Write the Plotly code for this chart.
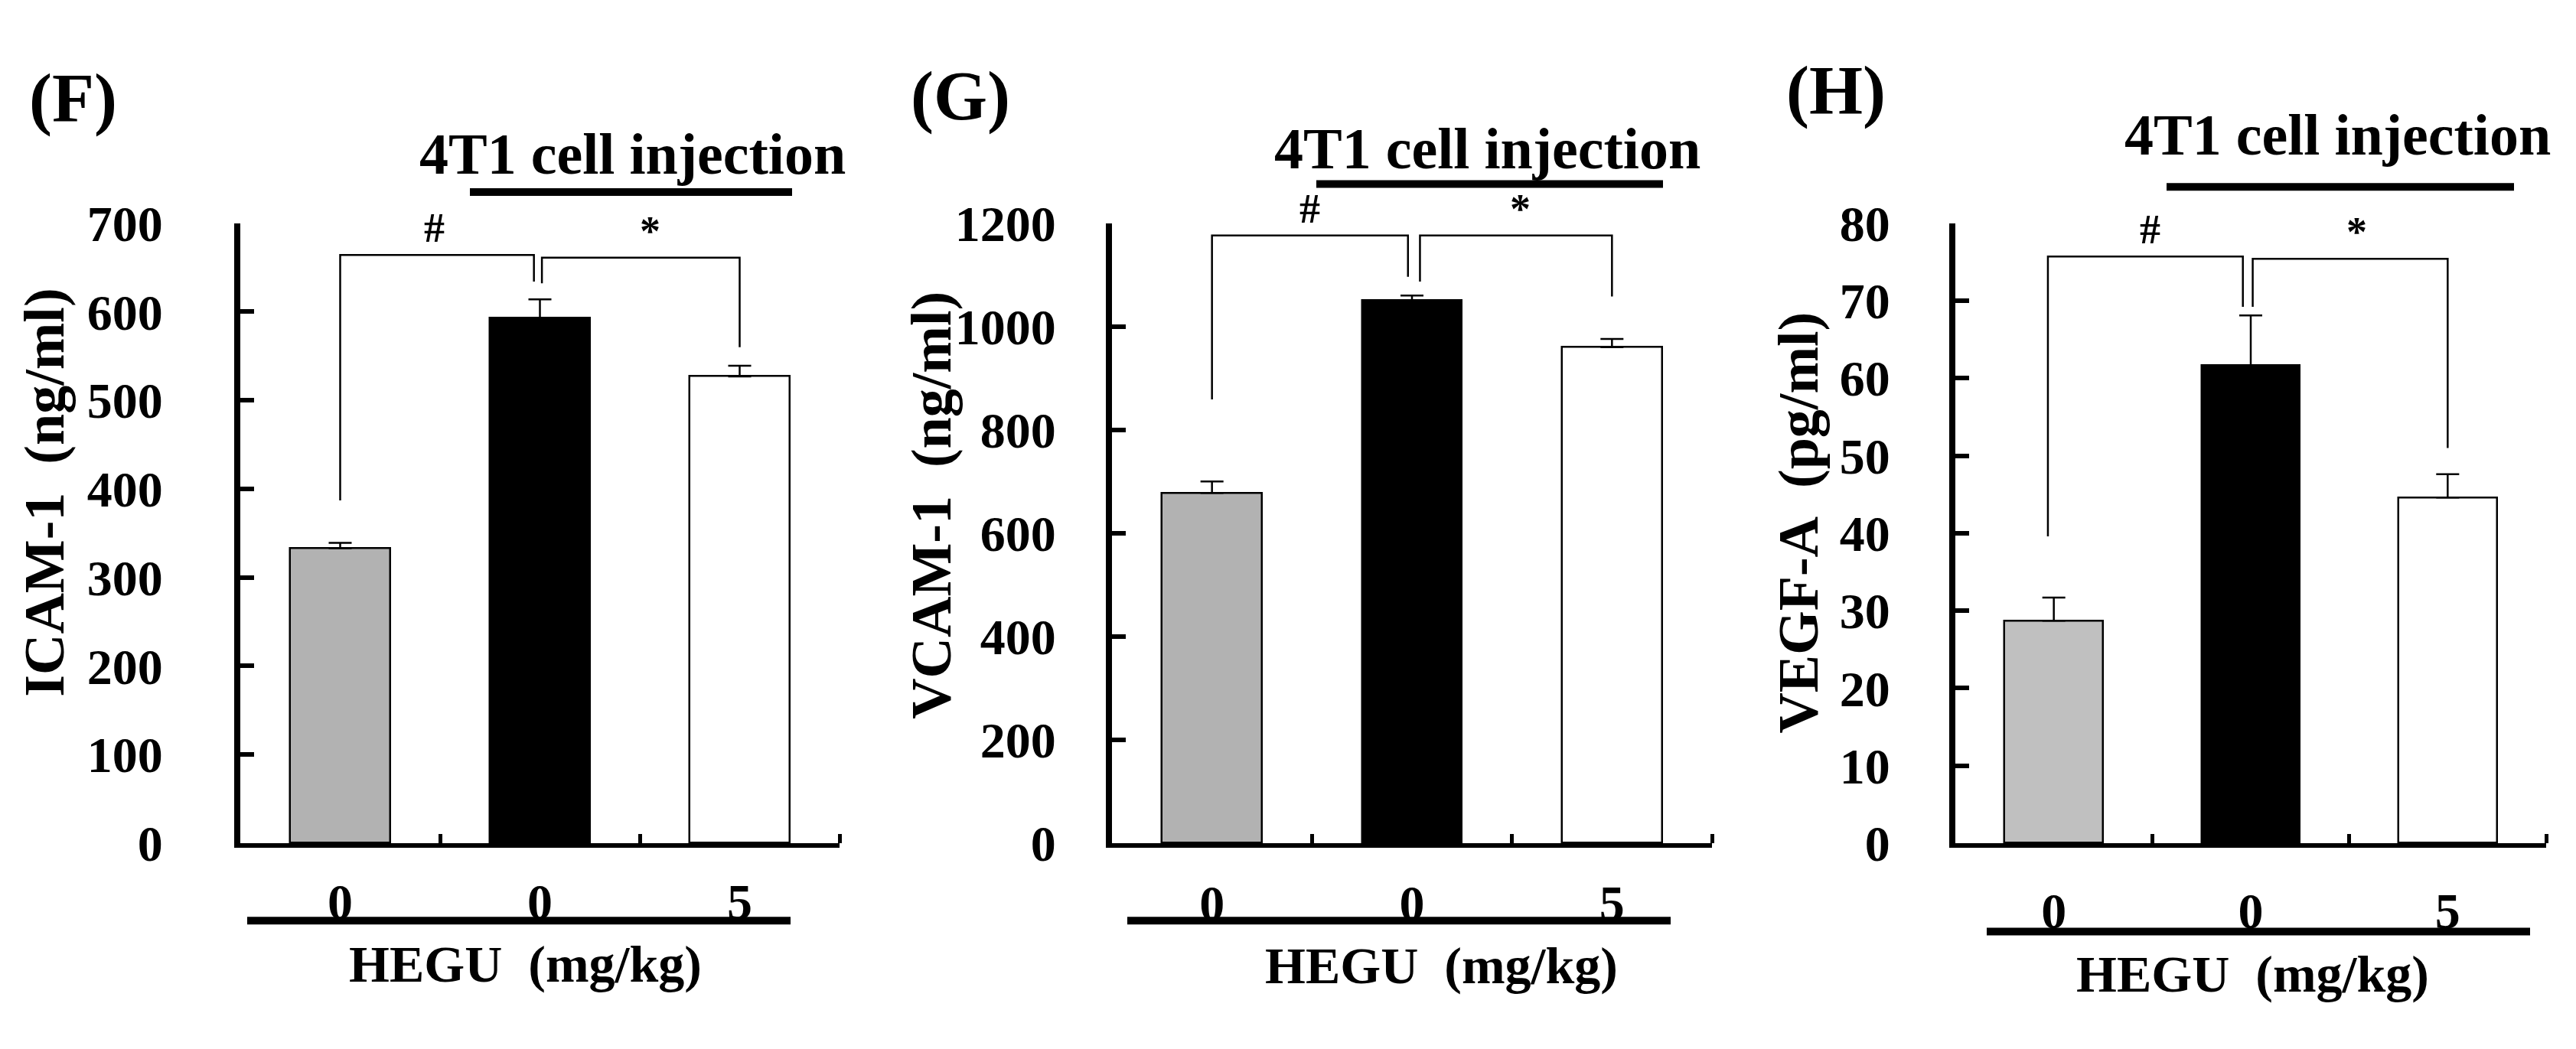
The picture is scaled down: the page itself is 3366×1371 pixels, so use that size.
import plotly.graph_objects as go

W, H = 3366, 1371

# ---- data -------------------------------------------------------------
DOSE_LABELS = ["0", "0", "5"]
GROUP_POS = [0, 1, 2]

ICAM1 = [333, 593, 527]
ICAM1_SEM = [6, 21, 12]
VCAM1 = [678, 1050, 960]
VCAM1_SEM = [22, 10, 16]
VEGFA = [28.7, 61.6, 44.6]
VEGFA_SEM = [3.0, 6.5, 3.0]

ICAM1_TICKS = [0, 100, 200, 300, 400, 500, 600, 700]
VCAM1_TICKS = [0, 200, 400, 600, 800, 1000, 1200]
VEGFA_TICKS = [0, 10, 20, 30, 40, 50, 60, 70, 80]

# significance brackets: (x path, y path) in data units
ICAM1_BRACKETS = [([0, 0, 0.97, 0.97], [387, 664, 664, 634]),
                  ([1.01, 1.01, 2, 2], [632, 661, 661, 560])]
VCAM1_BRACKETS = [([0, 0, 0.98, 0.98], [859, 1176, 1176, 1096]),
                  ([1.04, 1.04, 2, 2], [1087, 1176, 1176, 1058])]
VEGFA_BRACKETS = [([-0.03, -0.03, 0.96, 0.96], [39.6, 75.7, 75.7, 69.2]),
                  ([1.01, 1.01, 2, 2], [69.2, 75.4, 75.4, 51.0])]
ICAM1_SIG = [("#", 0.47, 664), ("*", 1.55, 661)]
VCAM1_SIG = [("#", 0.49, 1176), ("*", 1.54, 1176)]
VEGFA_SIG = [("#", 0.49, 75.7), ("*", 1.54, 75.4)]

FONT = "Times New Roman, Liberation Serif, serif"


def px(x):
    return x / W


def py(y):
    return 1 - y / H


PANELS = [
    dict(tag="(F)", title="ICAM-1\u00a0 (ng/ml)", vals=ICAM1, sem=ICAM1_SEM, ticks=ICAM1_TICKS,
         brackets=ICAM1_BRACKETS, sig=ICAM1_SIG, gray="#b2b2b2",
         xdom=(314, 1097), standoff=80, tag_xy=(95, 98), ytitle_xy=(58, 642),
         top_text_xy=(826, 174), top_line=(614, 1035, 227), bottom_line=(323, 1033, 1233),
         hegu_xy=(686, 1293), xlab_standoff=14),
    dict(tag="(G)", title="VCAM-1\u00a0 (ng/ml)", vals=VCAM1, sem=VCAM1_SEM, ticks=VCAM1_TICKS,
         brackets=VCAM1_BRACKETS, sig=VCAM1_SIG, gray="#b2b2b2",
         xdom=(1453, 2237), standoff=52, tag_xy=(1255, 95), ytitle_xy=(1217, 660),
         top_text_xy=(1943, 167), top_line=(1720, 2173, 216), bottom_line=(1473, 2183, 1233),
         hegu_xy=(1883, 1295), xlab_standoff=16),
    dict(tag="(H)", title="VEGF-A\u00a0 (pg/ml)", vals=VEGFA, sem=VEGFA_SEM, ticks=VEGFA_TICKS,
         brackets=VEGFA_BRACKETS, sig=VEGFA_SIG, gray="#c0c0c0",
         xdom=(2555, 3327), standoff=64, tag_xy=(2399, 88), ytitle_xy=(2350, 684),
         top_text_xy=(3054, 148), top_line=(2831, 3285, 220), bottom_line=(2596, 3306, 1248),
         hegu_xy=(2943, 1307), xlab_standoff=26),
]

Y_TOP, Y_BOTTOM = 270, 1126

fig = go.Figure()
annotations = []
shapes = []
layout_axes = {}

for i, p in enumerate(PANELS):
    n = "" if i == 0 else str(i + 1)
    xa, ya = "x" + n, "y" + n

    fig.add_trace(go.Bar(
        x=GROUP_POS, y=p["vals"], width=0.5,
        marker=dict(color=[p["gray"], "#000000", "#ffffff"],
                    line=dict(color="black", width=2.5)),
        error_y=dict(type="data", symmetric=False, array=p["sem"],
                     arrayminus=[0, 0, 0], color="black", thickness=2.5, width=15),
        xaxis=xa, yaxis=ya, showlegend=False, hoverinfo="skip",
    ))
    for bx, by in p["brackets"]:
        fig.add_trace(go.Scatter(
            x=bx, y=by, mode="lines", line=dict(color="black", width=2.5),
            xaxis=xa, yaxis=ya, showlegend=False, hoverinfo="skip",
        ))
    for txt, sx, sy in p["sig"]:
        annotations.append(dict(
            text=txt, x=sx, y=sy, xref=xa, yref=ya, xanchor="center", yanchor="bottom",
            yshift=3, showarrow=False, font=dict(family=FONT, size=54, color="black", weight="bold"),
        ))

    layout_axes["xaxis" + n] = dict(
        domain=[px(p["xdom"][0]), px(p["xdom"][1])], anchor=ya,
        range=[-0.5, 2.5], tickvals=GROUP_POS, ticktext=DOSE_LABELS, ticks="",
        ticklabelstandoff=p["xlab_standoff"],
        showline=True, linewidth=6, linecolor="black", showgrid=False, zeroline=False,
        tickfont=dict(family=FONT, size=66, color="black", weight="bold"),
        minor=dict(tickmode="array", tickvals=[0.5, 1.5, 2.5], ticks="inside",
                   ticklen=12, tickwidth=5, tickcolor="black", showgrid=False),
        fixedrange=True,
    )
    layout_axes["yaxis" + n] = dict(
        domain=[py(Y_BOTTOM), py(Y_TOP)], anchor=xa,
        range=[0, p["ticks"][-1]], tickvals=p["ticks"], ticks="inside",
        ticklen=18, tickwidth=6, tickcolor="black", ticklabelstandoff=p["standoff"],
        showline=True, linewidth=8, linecolor="black", showgrid=False, zeroline=False,
        tickfont=dict(family=FONT, size=66, color="black", weight="bold"),
        fixedrange=True,
    )

    bold = dict(family=FONT, color="black", weight="bold")
    annotations += [
        dict(text=p["tag"], x=px(p["tag_xy"][0]), y=py(p["tag_xy"][1]), xref="paper", yref="paper",
             showarrow=False, xanchor="center", yanchor="middle", font=dict(size=90, **bold)),
        dict(text=p["title"], x=px(p["ytitle_xy"][0]), y=py(p["ytitle_xy"][1]), xref="paper",
             yref="paper", showarrow=False, textangle=-90, xanchor="center", yanchor="middle",
             font=dict(size=74, **bold)),
        dict(text="4T1 cell injection", x=px(p["top_text_xy"][0]), y=py(p["top_text_xy"][1]),
             xref="paper", yref="paper", showarrow=False, xanchor="center", yanchor="middle",
             font=dict(size=76, **bold)),
        dict(text="HEGU\u00a0 (mg/kg)", x=px(p["hegu_xy"][0]), y=py(p["hegu_xy"][1]),
             xref="paper", yref="paper", showarrow=False, xanchor="center", yanchor="middle",
             font=dict(size=68, **bold)),
    ]
    for x0, x1, yy in (p["top_line"], p["bottom_line"]):
        shapes.append(dict(type="line", xref="paper", yref="paper",
                           x0=px(x0), x1=px(x1), y0=py(yy), y1=py(yy),
                           line=dict(color="black", width=10)))

# figure fills the browser window; everything is placed in paper fractions
fig.update_layout(
    autosize=True,
    margin=dict(l=0, r=0, t=0, b=0),
    paper_bgcolor="white", plot_bgcolor="white",
    annotations=annotations, shapes=shapes,
    bargap=0, showlegend=False,
    **layout_axes,
)

fig.write_html(
    "out.html",
    default_width="100vw", default_height="100vh",
    config={"displayModeBar": False, "responsive": True},
    post_script=("document.documentElement.style.overflow='hidden';"
                 "document.body.style.margin='0';document.body.style.overflow='hidden';"
                 "Plotly.Plots.resize(document.getElementById('{plot_id}'));"),
)
